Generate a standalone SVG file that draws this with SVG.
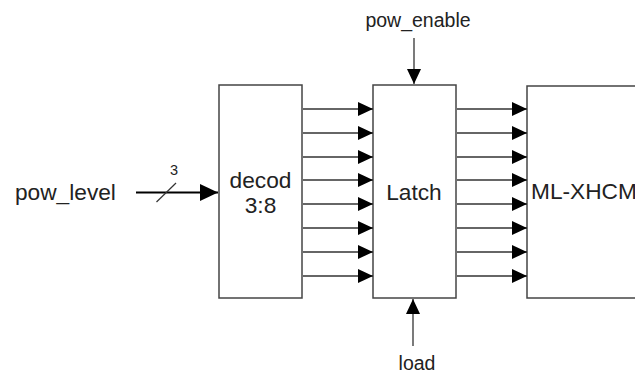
<svg xmlns="http://www.w3.org/2000/svg" width="635" height="374" viewBox="0 0 635 374">
<defs>
<style>
.box{fill:#fff;stroke:#444;stroke-width:1.5}
.w{stroke:#333;stroke-width:1.3;fill:none}
.t{font-family:"Liberation Sans",Arial,sans-serif;fill:#222}
.big{font-size:22.7px}
.sm{font-size:19.5px}
</style>
<marker id="ah" viewBox="0 0 15 14" refX="15" refY="7" markerWidth="15" markerHeight="14" markerUnits="userSpaceOnUse" orient="auto">
<path d="M0,0 L15,7 L0,14 Z" fill="#000"/>
</marker>
<marker id="ahb" viewBox="0 0 18 17" refX="18" refY="8.5" markerWidth="18" markerHeight="17" markerUnits="userSpaceOnUse" orient="auto">
<path d="M0,0 L18,8.5 L0,17 Z" fill="#000"/>
</marker>
</defs>
<rect width="635" height="374" fill="#fff"/>
<g id="pow_level">
<text class="t big" x="15" y="200">pow_level</text>
</g>
<g id="decod">
<rect class="box" x="219" y="85" width="83" height="213"/>
<text class="t big" x="260.5" y="187.5" text-anchor="middle">decod</text>
<text class="t big" x="260.5" y="213" text-anchor="middle">3:8</text>
</g>
<g id="latch">
<rect class="box" x="373" y="85" width="83" height="213"/>
<text class="t big" x="414" y="200" text-anchor="middle">Latch</text>
</g>
<g id="mlxhcm">
<rect class="box" x="527" y="86" width="130" height="212"/>
<text class="t big" x="531" y="199">ML-XHCM</text>
</g>
<g id="pow_enable">
<text class="t sm" x="418" y="27" text-anchor="middle">pow_enable</text>
</g>
<g id="load">
<text class="t sm" x="417" y="370" text-anchor="middle">load</text>
</g>
<g id="connectors">
<line x1="136" y1="192.5" x2="218" y2="192.5" stroke="#000" stroke-width="2.2" marker-end="url(#ahb)"/>
<line x1="156.5" y1="202" x2="176" y2="183" stroke="#333" stroke-width="1.2"/>
<text class="t" x="174" y="175" font-size="14.5" text-anchor="middle">3</text>
<g class="w" marker-end="url(#ah)">
<line x1="303" y1="109" x2="373" y2="109" marker-end="url(#ah)"/>
<line x1="303" y1="133" x2="373" y2="133" marker-end="url(#ah)"/>
<line x1="303" y1="157" x2="373" y2="157" marker-end="url(#ah)"/>
<line x1="303" y1="180" x2="373" y2="180" marker-end="url(#ah)"/>
<line x1="303" y1="204" x2="373" y2="204" marker-end="url(#ah)"/>
<line x1="303" y1="228" x2="373" y2="228" marker-end="url(#ah)"/>
<line x1="303" y1="252" x2="373" y2="252" marker-end="url(#ah)"/>
<line x1="303" y1="276" x2="373" y2="276" marker-end="url(#ah)"/>
<line x1="457" y1="109" x2="527" y2="109" marker-end="url(#ah)"/>
<line x1="457" y1="133" x2="527" y2="133" marker-end="url(#ah)"/>
<line x1="457" y1="157" x2="527" y2="157" marker-end="url(#ah)"/>
<line x1="457" y1="180" x2="527" y2="180" marker-end="url(#ah)"/>
<line x1="457" y1="204" x2="527" y2="204" marker-end="url(#ah)"/>
<line x1="457" y1="228" x2="527" y2="228" marker-end="url(#ah)"/>
<line x1="457" y1="252" x2="527" y2="252" marker-end="url(#ah)"/>
<line x1="457" y1="276" x2="527" y2="276" marker-end="url(#ah)"/>
<line x1="414" y1="38" x2="414" y2="84" marker-end="url(#ah)"/>
<line x1="413" y1="346" x2="413" y2="299" marker-end="url(#ah)"/>
</g>
</g>
</svg>
